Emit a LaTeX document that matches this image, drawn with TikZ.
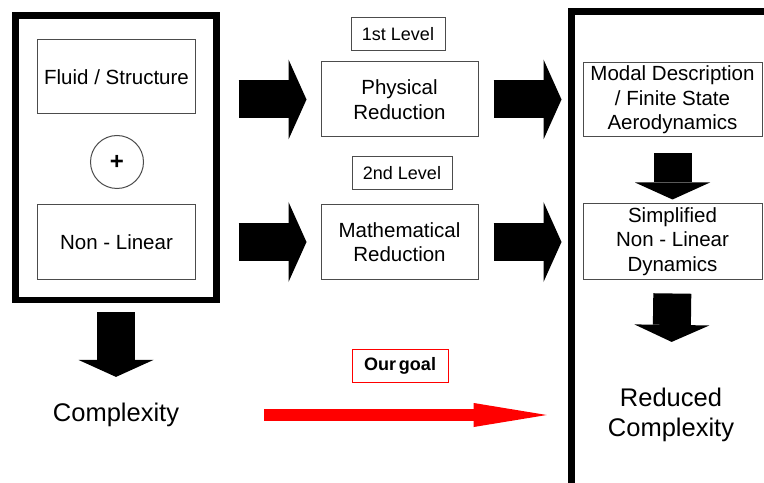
\documentclass[tikz,border=0pt]{standalone}
\usepackage{fontspec}
\setmainfont{Liberation Sans}
\usetikzlibrary{arrows.meta}
\begin{document}
\begin{tikzpicture}[x=1bp,y=-1bp,
  box/.style={draw=black!70, line width=1bp, inner sep=0pt, align=center,
    font=\fontsize{20.5bp}{24.5bp}\selectfont},
  tag/.style={draw=black!70, line width=1bp, inner sep=0pt, minimum height=33bp,
    font=\fontsize{18bp}{21bp}\selectfont},
  frame/.style={draw, line width=6.5bp, inner sep=0pt},
  big/.style={inner sep=0pt, align=center, font=\fontsize{25.5bp}{30bp}\selectfont},
  fat/.style={draw, line width=38bp, -{Triangle[length=18bp,width=80bp,line width=0pt]}},
  fatdown/.style={draw, line width=38bp, -{Triangle[length=17bp,width=75bp,line width=0pt]}}]
\useasboundingbox (0,0) rectangle (764,483);

% the two frames
\node[frame, minimum width=201bp, minimum height=284.3bp] (lhs) at (116,157.85) {};
\node[frame, anchor=north west, minimum width=400bp, minimum height=600bp] (rhs) at (568,8.5) {};

% left column
\node[box, minimum width=157bp, minimum height=74bp] (fs) at (116.5,77) {Fluid / Structure};
\node[draw=black!70, line width=1bp, circle, minimum size=53bp, inner sep=0pt,
  font=\fontsize{24bp}{24bp}\selectfont\bfseries] (plus) at (117,162) {+};
\node[box, minimum width=157bp, minimum height=74bp] (nl) at (116.5,242) {Non - Linear};
\node[big] (cx) at (116,415) {Complexity};

% middle column
\node[tag, minimum width=94bp] (lvl1) at (398,34.5) {1st Level};
\node[box, minimum width=157bp, minimum height=75bp] (phys) at (399.5,99.5) {Physical\\Reduction};
\node[tag, minimum width=100bp] (lvl2) at (402,173.5) {2nd Level};
\node[box, minimum width=157bp, minimum height=74bp] (math) at (399.5,242) {Mathematical\\Reduction};
\node[draw=red, line width=0.8bp, inner sep=0pt, minimum width=96bp, minimum height=33bp,
  font=\fontsize{18bp}{21bp}\selectfont\bfseries] (goal) at (400,365.5) {Our\,goal};

% right column
\node[box, minimum width=179bp, minimum height=74bp] (modal) at (672.5,100)
  {Modal Description\\/ Finite State\\Aerodynamics};
\node[box, minimum width=179bp, minimum height=75bp] (simpl) at (672.5,241.5)
  {Simplified\\Non - Linear\\Dynamics};
\node[big] (rc) at (671,415) {Reduced\\Complexity};

% block arrows
\path[fat, shorten <=43bp, shorten >=14bp] (fs.east |- phys) -- (phys.west);
\path[fat, shorten <=43bp, shorten >=14bp] (nl.east) -- (math.west);
\path[fat, shorten <=15bp, shorten >=21bp] (phys.east) -- (phys.east -| modal.west);
\path[fat, shorten <=15bp, shorten >=21bp] (math.east) -- (math.east -| simpl.west);
\path[fatdown, shorten <=16bp, shorten >=4bp] (modal.south) -- (simpl.north);
\path[fatdown, shorten <=14bp, shorten >=46bp] (simpl.south) -- (rc.north);
\path[fatdown, shorten <=9bp, shorten >=26bp] (lhs.south) -- (cx.north);
\path[draw, red, line width=12bp, -{Triangle[length=73bp,width=24bp,line width=0pt]},
  shorten <=85bp, shorten >=61bp] (cx.east) -- (cx.east -| rc.west);
\end{tikzpicture}
\end{document}
